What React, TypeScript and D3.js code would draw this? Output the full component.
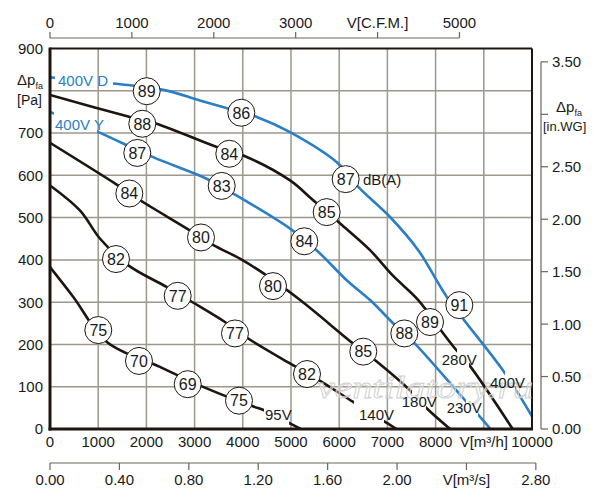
import React from 'react';
import * as d3 from 'd3';

// ---------- DATA ----------
const flowTicks = [0, 1000, 2000, 3000, 4000, 5000, 6000, 7000, 8000, 9000, 10000];
const flowLabels = ['0', '1000', '2000', '3000', '4000', '5000', '6000', '7000', '8000', 'V[m³/h]', '10000'];
const pressTicks = [0, 100, 200, 300, 400, 500, 600, 700, 800, 900];
const pressLabels = ['0', '100', '200', '300', '400', '500', '600', '700', '', '900'];
const cfmTicks = [0, 1000, 2000, 3000, 4000, 5000];
const cfmLabels = ['0', '1000', '2000', '3000', 'V[C.F.M.]', '5000'];
const m3sTicks = [0, 0.4, 0.8, 1.2, 1.6, 2.0, 2.4, 2.8];
const m3sLabels = ['0.00', '0.40', '0.80', '1.20', '1.60', '2.00', 'V[m³/s]', '2.80'];
const inwgTicks = [0, 0.5, 1.0, 1.5, 2.0, 2.5, 3.0, 3.5];
const inwgLabels = ['0.00', '0.50', '1.00', '1.50', '2.00', '2.50', '', '3.50'];

// [flow m³/h, pressure Pa]
const curve400D: [number, number][] = [[0, 832], [990, 820], [1500, 815], [2400, 801], [3110, 777], [3730, 757], [4290, 738], [4980, 702], [5980, 628], [6400, 572], [7050, 502], [7640, 423], [8230, 313], [9440, 132], [10000, 30]];
const curve280V: [number, number][] = [[0, 790], [1660, 738], [2210, 722], [3460, 667], [4010, 647], [4980, 588], [5460, 541], [6020, 486], [6640, 423], [7120, 362], [7640, 305], [8160, 226], [8420, 188], [8700, 151], [9600, 0]];
const curve400Y: [number, number][] = [[0, 750], [970, 704], [2140, 643], [3250, 592], [3800, 557], [4980, 474], [5530, 423], [6155, 352], [6640, 305], [7190, 242], [7570, 202], [8610, 68], [8890, 33], [9140, 0]];
const curve180V: [number, number][] = [[0, 677], [1400, 577], [1870, 541], [2900, 470], [3390, 435], [3940, 403], [4430, 368], [5190, 305], [6290, 202], [6740, 163], [7500, 88], [7815, 49], [8300, 0]];
const curve140V: [number, number][] = [[0, 576], [620, 517], [1040, 450], [1625, 387], [2420, 336], [2940, 301], [3630, 253], [4110, 214], [4980, 155], [5570, 116], [6290, 64], [6950, 17], [7190, 0]];
const curve95V: [number, number][] = [[0, 383], [480, 313], [1180, 206], [2280, 147], [3250, 96], [4220, 53], [4430, 45], [4980, 13], [5200, 0]];

// noise level markers [flow, pressure, dB(A)]
const noise400D: [number, number, string][] = [[2006, 799, '89'], [3969, 748, '86'], [6134, 591, '87'], [8492, 293, '91']];
const noise280V: [number, number, string][] = [[1915, 722, '88'], [3720, 651, '84'], [5740, 513, '85'], [7884, 253, '89']];
const noise400Y: [number, number, string][] = [[1811, 653, '87'], [3562, 575, '83'], [5276, 444, '84'], [7351, 226, '88']];
const noise180V: [number, number, string][] = [[1646, 557, '84'], [3133, 453, '80'], [4627, 338, '80'], [6500, 183, '85']];
const noise140V: [number, number, string][] = [[1369, 402, '82'], [2649, 315, '77'], [3838, 226, '77'], [5332, 130, '82']];
const noise95V: [number, number, string][] = [[1002, 234, '75'], [1846, 161, '70'], [2857, 106, '69'], [3921, 67, '75']];

// curve labels [text, flow, pressure]
const curveLabels: [string, number, number, string][] = [
  ['400V D', 166, 824, 'blue'],
  ['400V Y', 104, 720, 'blue'],
  ['95V', 4460, 33, 'black'],
  ['140V', 6411, 33, 'black'],
  ['180V', 7297, 64, 'black'],
  ['230V', 8230, 50, 'black'],
  ['280V', 8127, 163, 'black'],
  ['400V', 9129, 109, 'black'],
  ['dB(A)', 6494, 591, 'black'],
];

// ---------- STYLE ----------
const BLUE = '#2a7fc6';
const DARK = '#1e1510';
const GRID = '#9d978c';
const AXIS = '#6d6558';
const TXT = '#1a1a1a';
const FONT = '"Liberation Sans", Arial, sans-serif';

const X0 = 50, X1 = 532, Y0 = 429, Y1 = 48.5;
const x = d3.scaleLinear().domain([0, 10000]).range([X0, X1]);
const y = d3.scaleLinear().domain([0, 900]).range([Y0, Y1]);
const xCfm = d3.scaleLinear().domain([0, 10000 / 1.699]).range([X0, X1]);
const xM3s = d3.scaleLinear().domain([0, 10000 / 3600]).range([X0, X1]);
const yIn = d3.scaleLinear().domain([0, 900 / 249.089]).range([Y0, Y1 + 1.5]);

const line = d3.line<[number, number]>().x(d => x(d[0])).y(d => y(d[1])).curve(d3.curveCatmullRom.alpha(0.5));

const series = [
  { id: 'c400D', data: curve400D, color: BLUE, gaps: [[104, 1307], [9440, 9650]], noise: noise400D },
  { id: 'c280V', data: curve280V, color: DARK, gaps: [[8444, 8693]], noise: noise280V },
  { id: 'c400Y', data: curve400Y, color: BLUE, gaps: [[83, 975], [8631, 8880]], noise: noise400Y },
  { id: 'c180V', data: curve180V, color: DARK, gaps: [[7510, 7800]], noise: noise180V },
  { id: 'c140V', data: curve140V, color: DARK, gaps: [[6307, 6929]], noise: noise140V },
  { id: 'c95V', data: curve95V, color: DARK, gaps: [[4440, 4960]], noise: noise95V },
];

function clipRects(gaps: number[][]) {
  const rects: [number, number][] = [];
  let start = -500;
  gaps.forEach(g => { rects.push([start, g[0]]); start = g[1]; });
  rects.push([start, 12000]);
  return rects;
}

export default function App() {
  return (
    <svg width={600} height={500} style={{ position: 'absolute', left: 0, top: 0, background: '#fff' }} fontFamily={FONT}>
      <defs>
        {series.map(s => (
          <clipPath id={'clip-' + s.id} key={s.id}>
            {clipRects(s.gaps).map((r, i) => (
              <rect key={i} x={x(r[0])} y={0} width={x(r[1]) - x(r[0])} height={500} />
            ))}
          </clipPath>
        ))}
        <clipPath id="plot-clip">
          <rect x={X0} y={Y1} width={X1 - X0 + 1} height={Y0 - Y1} />
        </clipPath>
      </defs>

      {/* grid */}
      {flowTicks.slice(1, -1).map(t => (
        <line key={'gx' + t} x1={x(t)} x2={x(t)} y1={Y1} y2={Y0} stroke={GRID} strokeWidth={1.5} />
      ))}
      {pressTicks.slice(1, -1).map(t => (
        <line key={'gy' + t} x1={X0} x2={X1} y1={y(t)} y2={y(t)} stroke={GRID} strokeWidth={1.5} />
      ))}

      {/* curves */}
      <g clipPath="url(#plot-clip)">
        {series.map(s => (
          <g key={s.id} clipPath={`url(#clip-${s.id})`}>
            <path d={line(s.data) || ''} fill="none" stroke={s.color} strokeWidth={2.6} />
          </g>
        ))}
      </g>

      {/* frame */}
      <line x1={X0} x2={X1} y1={Y1} y2={Y1} stroke={DARK} strokeWidth={2} />
      <line x1={X1} x2={X1} y1={Y1} y2={Y0} stroke={DARK} strokeWidth={2} />
      <line x1={X0} x2={X0} y1={Y1 - 1} y2={Y0 + 1.5} stroke={DARK} strokeWidth={3} />
      <line x1={X0 - 1.5} x2={X1 + 1} y1={Y0} y2={Y0} stroke={DARK} strokeWidth={3} />

      {/* watermark */}
      <text x={317} y={398} fontFamily='"Liberation Serif", "DejaVu Serif", serif' fontStyle="italic"
        fontSize={31} textLength={216} lengthAdjust="spacingAndGlyphs" fill="rgba(255,255,255,0.35)"
        stroke="#cfcfcf" strokeWidth={0.8}>ventilatory.ru</text>

      {/* noise circles */}
      {series.map(s => s.noise.map((n, i) => (
        <g key={s.id + i}>
          <circle cx={x(n[0])} cy={y(n[1])} r={13.5} fill="#fff" stroke={DARK} strokeWidth={1} />
          <text x={x(n[0])} y={y(n[1])} dy="0.36em" textAnchor="middle" fontSize={16} fill={TXT}>{n[2]}</text>
        </g>
      )))}

      {/* curve labels */}
      {curveLabels.map(l => (
        <text key={l[0]} x={x(l[1])} y={y(l[2])} dy="0.36em" fontSize={15}
          fill={l[3] === 'blue' ? BLUE : TXT}>{l[0]}</text>
      ))}

      {/* left axis labels */}
      {pressTicks.map((t, i) => pressLabels[i] ? (
        <text key={'ly' + t} x={43} y={y(t)} dy="0.36em" textAnchor="end" fontSize={15} fill={TXT}>{pressLabels[i]}</text>
      ) : null)}
      <text x={17} y={80} dy="0.36em" fontSize={15} fill={TXT}>Δp<tspan fontSize={9} dy="0.45em">fa</tspan></text>
      <text x={17} y={100} dy="0.36em" fontSize={14} fill={TXT}>[Pa]</text>

      {/* bottom m³/h labels */}
      {flowTicks.map((t, i) => (
        <text key={'lx' + t} x={x(t)} y={442} dy="0.36em" textAnchor="middle" fontSize={15} fill={TXT}>{flowLabels[i]}</text>
      ))}

      {/* top CFM axis */}
      <line x1={xCfm(0)} x2={xCfm(5000)} y1={38} y2={38} stroke={AXIS} strokeWidth={1.2} />
      {cfmTicks.map((t, i) => (
        <g key={'cfm' + t}>
          <line x1={xCfm(t)} x2={xCfm(t)} y1={38} y2={32} stroke={AXIS} strokeWidth={1.2} />
          <text x={xCfm(t)} y={23} dy="0.36em" textAnchor="middle" fontSize={15} fill={TXT}>{cfmLabels[i]}</text>
        </g>
      ))}

      {/* bottom m³/s axis */}
      <line x1={xM3s(0)} x2={xM3s(2.8)} y1={463} y2={463} stroke={AXIS} strokeWidth={1.2} />
      {m3sTicks.map((t, i) => (
        <g key={'m3s' + t}>
          <line x1={xM3s(t)} x2={xM3s(t)} y1={463} y2={470} stroke={AXIS} strokeWidth={1.2} />
          <text x={xM3s(t)} y={480} dy="0.36em" textAnchor="middle" fontSize={15} fill={TXT}>{m3sLabels[i]}</text>
        </g>
      ))}

      {/* right in.WG axis */}
      <line x1={541} x2={541} y1={yIn(3.5)} y2={Y0} stroke={AXIS} strokeWidth={1.2} />
      {inwgTicks.map((t, i) => (
        <g key={'in' + t}>
          <line x1={541} x2={548} y1={yIn(t)} y2={yIn(t)} stroke={AXIS} strokeWidth={1.2} />
          {inwgLabels[i] ? (
            <text x={552} y={yIn(t)} dy="0.36em" fontSize={15} fill={TXT}>{inwgLabels[i]}</text>
          ) : null}
        </g>
      ))}
      <text x={556} y={107} dy="0.36em" fontSize={15} fill={TXT}>Δp<tspan fontSize={9} dy="0.45em">fa</tspan></text>
      <text x={543} y={126} dy="0.36em" fontSize={13} fill={TXT}>[in.WG]</text>
    </svg>
  );
}
